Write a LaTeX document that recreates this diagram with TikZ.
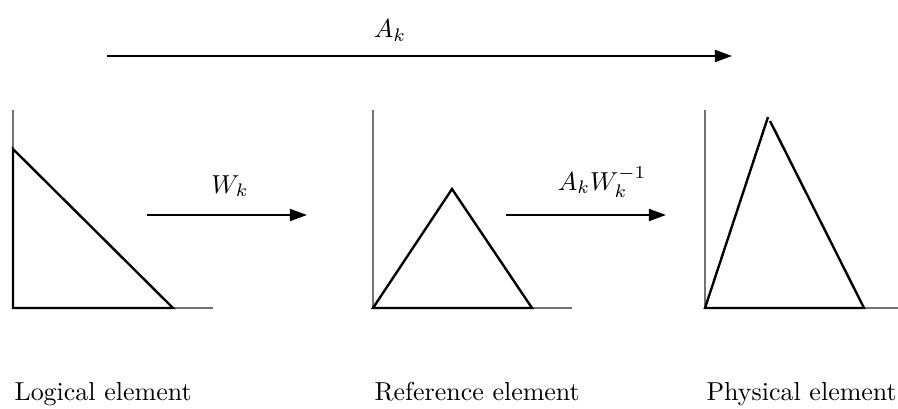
\documentclass[tikz,border=0pt]{standalone}
\usetikzlibrary{arrows.meta}
\begin{document}
\begin{tikzpicture}[x=0.385pt,y=-0.385pt,
  axisline/.style={draw=black!55,line width=0.45pt},
  triline/.style={draw=black,line width=0.92pt,line join=miter},
  maparrow/.style={draw=black,line width=0.8pt,-{Triangle[length=6.6pt,width=4.6pt]}},
  lbl/.style={inner sep=0pt,anchor=base}]
\useasboundingbox (0,0) rectangle (898,408);
% top arrow
\coordinate (ta) at (107,56);
\coordinate (tb) at (732,56);
\draw[maparrow] (ta) -- (tb);
\node[lbl] (lA) at (390,38) {$A_k$};
% panel 1
\coordinate (o1) at (13,308);
\draw[axisline] (13,110) -- (o1) -- (213,308);
\draw[triline] (13,149) -- (o1) -- (173,308) -- cycle;
% arrow 1
\coordinate (a1s) at (147,215);
\coordinate (a1e) at (307,215);
\draw[maparrow] (a1s) -- (a1e);
\node[lbl] (lW) at (230,193) {$W_k$};
% panel 2
\coordinate (o2) at (373,308);
\draw[axisline] (373,110) -- (o2) -- (572,308);
\draw[triline] (o2) -- (452,189) -- (532,308) -- cycle;
% arrow 2
\coordinate (a2s) at (506,215);
\coordinate (a2e) at (666,215);
\draw[maparrow] (a2s) -- (a2e);
\node[lbl] (lAW) at (602,190) {$A_kW_k^{-1}$};
% panel 3
\coordinate (o3) at (705,308);
\draw[axisline] (705,110) -- (o3) -- (898,308);
\draw[triline] (768,117) -- (o3) -- (864,308) -- (770,121);
% labels
\node[lbl,anchor=base west] (t1) at (14,400) {Logical element};
\node[lbl,anchor=base west] (t2) at (374,400) {Reference element};
\node[lbl,anchor=base west] (t3) at (706,400) {Physical element};
\end{tikzpicture}
\end{document}
